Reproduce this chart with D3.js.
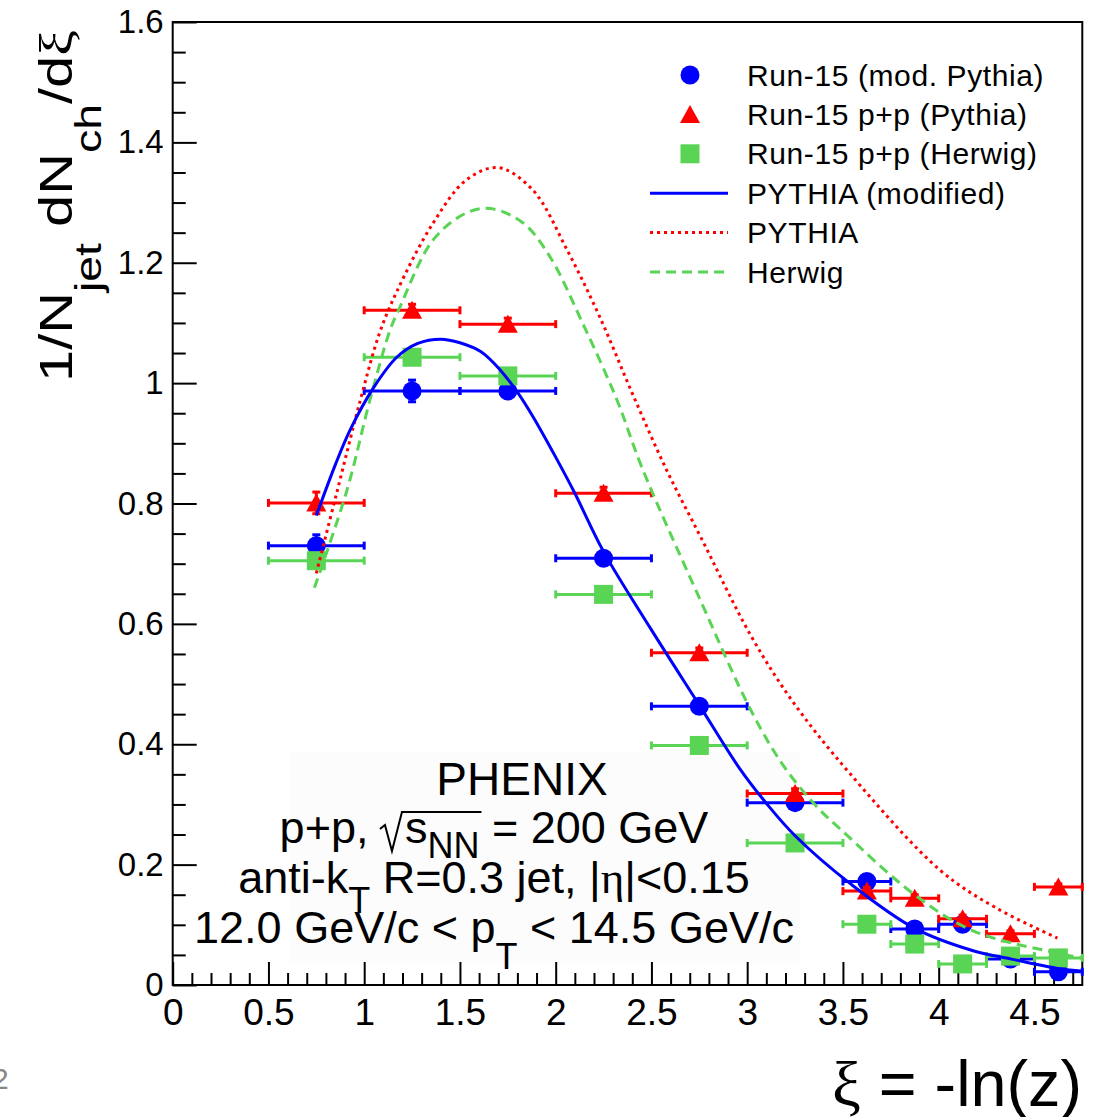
<!DOCTYPE html>
<html>
<head>
<meta charset="utf-8">
<script src="https://cdn.jsdelivr.net/npm/d3@7"></script>
<style>
  body { margin: 0; background: #fff; }
  text { font-family: "Liberation Sans", Arial, sans-serif; }
</style>
</head>
<body>
<div id="chart"></div>
<script>
// bins in xi = -ln(z)
const binLow  = [0.5, 1.0, 1.5, 2.0, 2.5, 3.0, 3.5, 3.75, 4.0, 4.25, 4.5];
const binHigh = [1.0, 1.5, 2.0, 2.5, 3.0, 3.5, 3.75, 4.0, 4.25, 4.5, 4.75];

// Run-15 data points
const modPythia    = [0.730, 0.987, 0.987, 0.709, 0.463, 0.303, 0.172, 0.093, 0.101, 0.043, 0.022];
const modPythiaErr = [0.018, 0.018, 0.010, 0.010, 0.008, 0.008, 0.006, 0.006, 0.006, 0.005, 0.005];
const ppPythia     = [0.801, 1.121, 1.098, 0.817, 0.552, 0.318, 0.156, 0.144, 0.110, 0.085, 0.163];
const ppPythiaErr  = [0.018, 0.010, 0.010, 0.010, 0.008, 0.008, 0.006, 0.006, 0.006, 0.005, 0.005];
const ppHerwig     = [0.705, 1.043, 1.012, 0.649, 0.398, 0.236, 0.101, 0.068, 0.035, 0.048, 0.045];
const ppHerwigErr  = [0.008, 0.008, 0.008, 0.008, 0.006, 0.006, 0.005, 0.005, 0.005, 0.005, 0.005];

// model curves
const pythiaModX = [0.75, 0.85, 0.926, 1.05, 1.17, 1.28, 1.40, 1.50, 1.61, 1.71, 1.80, 1.88, 2.00, 2.10, 2.25, 2.50, 2.75, 2.96, 3.11, 3.25, 3.54, 3.87, 4.18, 4.38, 4.63, 4.75];
const pythiaModY = [0.78, 0.865, 0.922, 0.993, 1.043, 1.066, 1.073, 1.067, 1.052, 1.022, 0.985, 0.945, 0.877, 0.817, 0.72, 0.59, 0.465, 0.36, 0.298, 0.248, 0.168, 0.095, 0.057, 0.043, 0.027, 0.023];
const pythiaX = [0.75, 0.86, 0.98, 1.08, 1.17, 1.36, 1.535, 1.70, 1.88, 2.06, 2.23, 2.40, 2.58, 2.756, 3.02, 3.24, 3.54, 4.01, 4.30, 4.62];
const pythiaY = [0.684, 0.822, 0.972, 1.083, 1.152, 1.266, 1.338, 1.358, 1.321, 1.221, 1.11, 0.983, 0.855, 0.745, 0.58, 0.47, 0.35, 0.19, 0.128, 0.078];
const herwigX = [0.74, 0.91, 1.03, 1.135, 1.186, 1.36, 1.535, 1.66, 1.83, 1.97, 2.14, 2.32, 2.45, 2.756, 3.02, 3.19, 3.37, 3.49, 3.87, 4.18, 4.62, 4.75];
const herwigY = [0.66, 0.822, 0.972, 1.088, 1.126, 1.238, 1.283, 1.29, 1.266, 1.21, 1.10, 0.972, 0.86, 0.639, 0.456, 0.364, 0.294, 0.258, 0.151, 0.09, 0.053, 0.045];

// ticks
const xMajor = [0, 0.5, 1, 1.5, 2, 2.5, 3, 3.5, 4, 4.5];
const yMajor = [0, 0.2, 0.4, 0.6, 0.8, 1, 1.2, 1.4, 1.6];

const legendLabels = ["Run-15 (mod. Pythia)", "Run-15 p+p (Pythia)", "Run-15 p+p (Herwig)",
                      "PYTHIA (modified)", "PYTHIA", "Herwig"];

const BLUE = "#0000ff", RED = "#ff0000", GREEN = "#59d454";

const width = 1099, height = 1117;
const svg = d3.select("#chart").append("svg")
    .attr("width", width).attr("height", height);

const x = d3.scaleLinear().domain([0, 4.75]).range([172.7, 1082.3]);
const y = d3.scaleLinear().domain([0, 1.6]).range([985, 22]);

// faint box behind the PHENIX text
svg.append("rect").attr("x", 290).attr("y", 752).attr("width", 510).attr("height", 211)
    .attr("fill", "#fcfcfc");

// minor ticks
const xMinor = d3.range(0, 48).filter(i => i % 5 !== 0).map(i => i / 10);
const yMinor = d3.range(0, 33).filter(i => i % 4 !== 0).map(i => i / 20);

const styleAxis = (g, size) => {
    g.select(".domain").remove();
    g.selectAll("line").attr("stroke", "#000").attr("stroke-width", 2);
    g.selectAll("text").attr("font-family", "Liberation Sans, Arial, sans-serif")
        .attr("font-size", size).attr("fill", "#000");
};

svg.append("g").attr("transform", "translate(0," + y(0) + ")")
    .call(d3.axisBottom(x).tickValues(xMinor).tickSize(-12).tickFormat(""))
    .call(g => styleAxis(g, 37));
svg.append("g").attr("transform", "translate(0," + y(0) + ")")
    .call(d3.axisBottom(x).tickValues(xMajor).tickSize(-23).tickPadding(14).tickFormat(d3.format("~g")))
    .call(g => styleAxis(g, 37));

svg.append("g").attr("transform", "translate(" + x(0) + ",0)")
    .call(d3.axisLeft(y).tickValues(yMinor).tickSize(-13).tickFormat(""))
    .call(g => styleAxis(g, 33));
svg.append("g").attr("transform", "translate(" + x(0) + ",0)")
    .call(d3.axisLeft(y).tickValues(yMajor).tickSize(-24).tickPadding(9).tickFormat(d3.format("~g")))
    .call(g => styleAxis(g, 33));

// frame
svg.append("rect")
    .attr("x", x(0)).attr("y", y(1.6))
    .attr("width", x(4.75) - x(0)).attr("height", y(0) - y(1.6))
    .attr("fill", "none").attr("stroke", "#000").attr("stroke-width", 2);

// markers
const drawMarker = (g, kind, cx, cy, color) => {
    if (kind === "circle") {
        g.append("circle").attr("cx", cx).attr("cy", cy).attr("r", 9.5).attr("fill", color);
    } else if (kind === "triangle") {
        g.append("path").attr("d", `M${cx},${cy - 9.5}L${cx + 10},${cy + 8.5}L${cx - 10},${cy + 8.5}Z`)
            .attr("fill", color);
    } else {
        g.append("rect").attr("x", cx - 9.5).attr("y", cy - 9.5).attr("width", 19).attr("height", 19)
            .attr("fill", color);
    }
};

const drawSeries = (vals, errs, color, kind) => {
    const g = svg.append("g");
    vals.forEach((v, i) => {
        const cx = x((binLow[i] + binHigh[i]) / 2), cy = y(v);
        const x0 = x(binLow[i]), x1 = x(binHigh[i]);
        const e = g.append("g").attr("stroke", color).attr("stroke-width", 3);
        e.append("line").attr("x1", x0).attr("x2", x1).attr("y1", cy).attr("y2", cy);
        e.append("line").attr("x1", x0).attr("x2", x0).attr("y1", cy - 4).attr("y2", cy + 4);
        e.append("line").attr("x1", x1).attr("x2", x1).attr("y1", cy - 4).attr("y2", cy + 4);
        const ya = y(v + errs[i]), yb = y(v - errs[i]);
        e.append("line").attr("x1", cx).attr("x2", cx).attr("y1", ya).attr("y2", yb);
        e.append("line").attr("x1", cx - 4).attr("x2", cx + 4).attr("y1", ya).attr("y2", ya);
        e.append("line").attr("x1", cx - 4).attr("x2", cx + 4).attr("y1", yb).attr("y2", yb);
        drawMarker(g, kind, cx, cy, color);
    });
};

drawSeries(modPythia, modPythiaErr, BLUE, "circle");
drawSeries(ppPythia, ppPythiaErr, RED, "triangle");
drawSeries(ppHerwig, ppHerwigErr, GREEN, "square");

// curves
const line = d3.line().x(d => x(d[0])).y(d => y(d[1])).curve(d3.curveCatmullRom.alpha(0.5));
svg.append("path").datum(d3.zip(herwigX, herwigY)).attr("d", line)
    .attr("fill", "none").attr("stroke", GREEN).attr("stroke-width", 3).attr("stroke-dasharray", "10,6");
svg.append("path").datum(d3.zip(pythiaX, pythiaY)).attr("d", line)
    .attr("fill", "none").attr("stroke", RED).attr("stroke-width", 3).attr("stroke-dasharray", "3,4");
svg.append("path").datum(d3.zip(pythiaModX, pythiaModY)).attr("d", line)
    .attr("fill", "none").attr("stroke", BLUE).attr("stroke-width", 3);

// legend
const legKinds = [
    { type: "circle", color: BLUE }, { type: "triangle", color: RED }, { type: "square", color: GREEN },
    { type: "line", color: BLUE, dash: null }, { type: "line", color: RED, dash: "3,4" },
    { type: "line", color: GREEN, dash: "10,6" }
];
const leg = svg.append("g");
legKinds.forEach((k, i) => {
    const cy = 75 + i * 39.4;
    if (k.type === "line") {
        leg.append("line").attr("x1", 650).attr("x2", 728).attr("y1", cy).attr("y2", cy)
            .attr("stroke", k.color).attr("stroke-width", 3).attr("stroke-dasharray", k.dash);
    } else {
        drawMarker(leg, k.type, 690, cy, k.color);
    }
    leg.append("text").attr("x", 747).attr("y", cy + 10.5).attr("font-size", 30)
        .attr("letter-spacing", 0.6).text(legendLabels[i]);
});

// text with sub/superscripts
const richText = (parent, x0, y0, size, anchor, runs) => {
    const t = parent.append("text").attr("x", x0).attr("y", y0)
        .attr("font-size", size).attr("text-anchor", anchor).attr("fill", "#000");
    let cur = 0;
    runs.forEach(r => {
        const shift = r.dy || 0;
        const ts = t.append("tspan").attr("dy", shift - cur).text(r.t);
        if (r.size) ts.attr("font-size", r.size);
        if (r.family) ts.attr("font-family", r.family);
        if (r.dx) ts.attr("dx", r.dx);
        cur = shift;
    });
    return t;
};

const serif = "Liberation Serif, DejaVu Serif, serif";

richText(svg, 522, 795, 46, "middle", [{ t: "PHENIX" }]);
const sq = richText(svg, 494, 843, 45, "middle", [
    { t: "p+p, " }, { t: "s", dx: 24 }, { t: "NN", size: 36, dy: 15 }, { t: " = 200 GeV" }
]);
richText(svg, 494, 893, 45, "middle", [
    { t: "anti-k" }, { t: "T", size: 36, dy: 20 }, { t: " R=0.3 jet, |" },
    { t: "η", family: serif }, { t: "|<0.15" }
]);
richText(svg, 494, 943, 45, "middle", [
    { t: "12.0 GeV/c < p" }, { t: "T", size: 36, dy: 26 }, { t: " < 14.5 GeV/c" }
]);

// square-root sign over s_NN
{
    const node = sq.node();
    const sx = node.getStartPositionOfChar(5).x;
    const ex = node.getEndPositionOfChar(7).x;
    const b = 843;
    svg.append("path")
        .attr("d", `M${sx - 25},${b - 14}L${sx - 20},${b - 18}L${sx - 13},${b + 8}L${sx - 3},${b - 31}L${ex + 2},${b - 31}`)
        .attr("fill", "none").attr("stroke", "#000").attr("stroke-width", 2);
}

// axis titles
richText(svg, 1082, 1106, 64, "end", [
    { t: "ξ", family: serif }, { t: " = -ln(z)" }
]).attr("textLength", 250).attr("lengthAdjust", "spacingAndGlyphs");

richText(svg, 0, 0, 46, "start", [
    { t: "1/N" }, { t: "jet", size: 37, dy: 29 }, { t: " dN" }, { t: "ch", size: 37, dy: 29 },
    { t: "/d" }, { t: "ξ", family: serif }
]).attr("transform", "translate(72,382) rotate(-90)")
  .attr("textLength", 352).attr("lengthAdjust", "spacingAndGlyphs");

// page number fragment at bottom-left
svg.append("text").attr("x", -8).attr("y", 1089).attr("font-size", 30).attr("fill", "#888").text("2");
</script>
</body>
</html>
